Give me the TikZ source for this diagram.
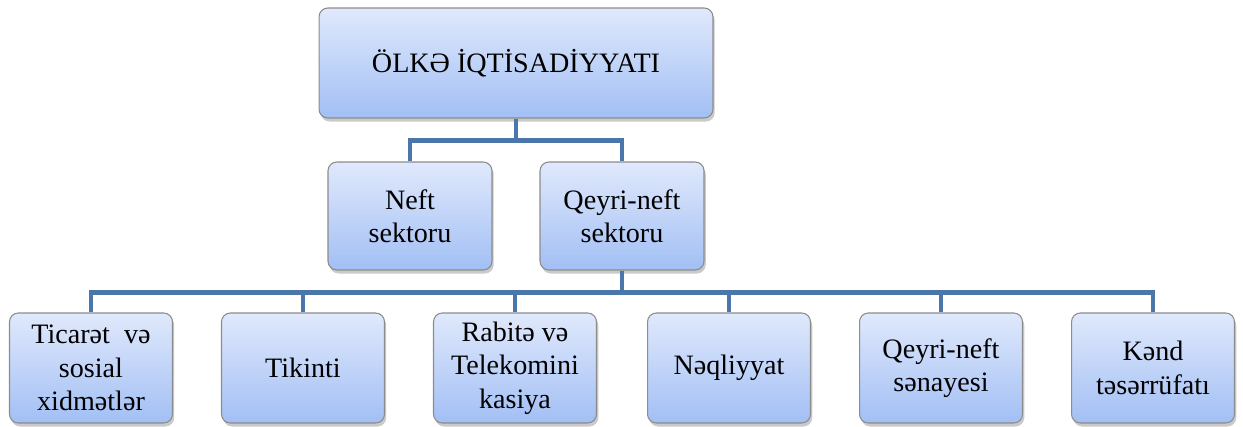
\documentclass[tikz,border=0pt]{standalone}
\usepackage{fontspec}
\setmainfont{Liberation Serif}
\usepackage{tikz}
\usetikzlibrary{shadows}
\definecolor{linkblue}{RGB}{74,118,170}
\definecolor{boxtop}{RGB}{224,233,252}
\definecolor{boxbottom}{RGB}{162,191,244}
\definecolor{boxedge}{RGB}{140,140,140}

\begin{document}
\begin{tikzpicture}[x=0.02cm, y=-0.02cm,
	box/.style={draw=boxedge, line width=0.6pt, rounded corners=5pt, top color=boxtop, bottom color=boxbottom,
		drop shadow={shadow xshift=1pt, shadow yshift=-2pt, opacity=0.35, fill=black!60},
		align=center, font=\fontsize{16}{19}\selectfont, inner sep=2pt},
	link/.style={draw=linkblue, line width=2.8pt}]
	\useasboundingbox (0, 0) rectangle (1243, 426);

	\node [box, minimum width=7.88cm, minimum height=2.2cm] (olke) at (516, 63) {ÖLKƏ İQTİSADİYYATI};

	\node [box, minimum width=3.28cm, minimum height=2.16cm] (neft) at (410, 216) {Neft\\sektoru};
	\node [box, minimum width=3.28cm, minimum height=2.16cm] (qeyri) at (622, 216) {Qeyri-neft\\sektoru};

	\node [box, minimum width=3.26cm, minimum height=2.2cm] (ticaret) at (91, 368) {Ticarət\ \ və\\sosial\\xidmətlər};
	\node [box, minimum width=3.26cm, minimum height=2.2cm] (tikinti) at (303, 368) {Tikinti};
	\node [box, minimum width=3.26cm, minimum height=2.2cm] (rabite) at (515, 368) {Rabitə və\\Telekomini\\kasiya};
	\node [box, minimum width=3.26cm, minimum height=2.2cm] (neqliyyat) at (729, 368) {Nəqliyyat};
	\node [box, minimum width=3.26cm, minimum height=2.2cm] (senaye) at (941, 368) {Qeyri-neft\\sənayesi};
	\node [box, minimum width=3.26cm, minimum height=2.2cm] (kend) at (1153, 368) {Kənd\\təsərrüfatı};

	\draw [link] (olke.south) -- ++(0, 22) -| (neft.north);
	\draw [link] (olke.south) -- ++(0, 22) -| (qeyri.north);

	\draw [link] (qeyri.south) -- ++(0, 22) -| (ticaret.north);
	\draw [link] (qeyri.south) -- ++(0, 22) -| (tikinti.north);
	\draw [link] (qeyri.south) -- ++(0, 22) -| (rabite.north);
	\draw [link] (qeyri.south) -- ++(0, 22) -| (neqliyyat.north);
	\draw [link] (qeyri.south) -- ++(0, 22) -| (senaye.north);
	\draw [link] (qeyri.south) -- ++(0, 22) -| (kend.north);
\end{tikzpicture}
\end{document}
